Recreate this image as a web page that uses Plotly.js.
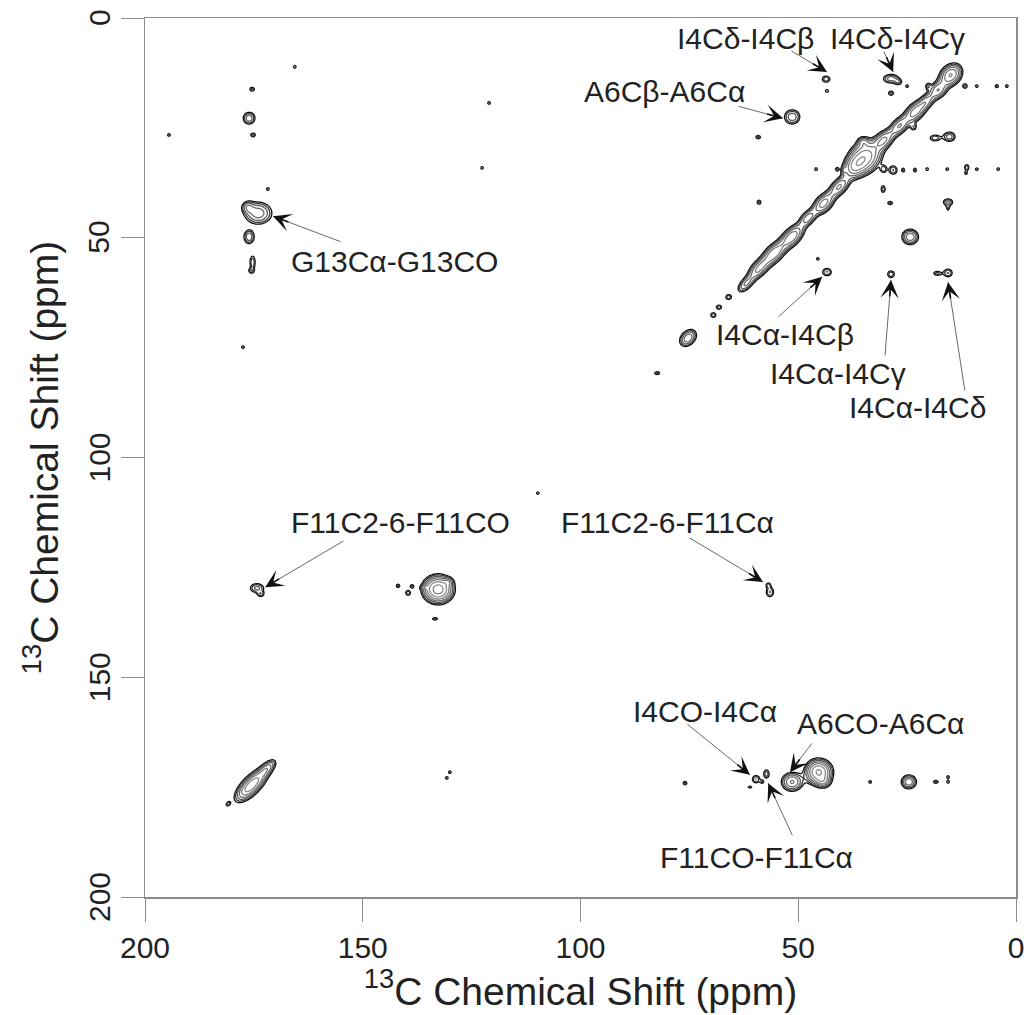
<!DOCTYPE html>
<html>
<head>
<meta charset="utf-8">
<script src="https://cdn.plot.ly/plotly-3.0.1.min.js"></script>
<style>
  html, body { margin: 0; padding: 0; background: #fff; }
  #plot { width: 1029px; height: 1015px; }
</style>
</head>
<body>
<div id="plot"></div>
<script>
// 2D 13C-13C correlation spectrum, peak list in ppm (F2 = x, F1 = y).

// Peaks elongated along the diagonal (x = y direction): diagonal ridge and the CO diagonal peak
const diagX   = [15.0, 17.9, 20.6, 23.2, 26.8, 30.4, 34.6, 37.0, 40.6, 44.2, 47.8, 51.5, 55.6, 59.0, 62.0, 75.3, 175.6, 172.0, 180.9];
const diagY   = [13.0, 16.4, 19.0, 21.4, 24.6, 27.8, 31.6, 33.8, 38.4, 42.2, 45.5, 49.8, 53.6, 57.0, 60.5, 72.8, 174.6, 170.8, 178.8];
const diagLen = [1.7, 1.4, 1.5, 1.8, 1.7, 1.7, 2.3, 1.8, 1.8, 1.8, 1.5, 2.1, 2.0, 1.9, 1.6, 1.4, 2.6, 1.7, 0.5];
const diagWid = [1.3, 1.1, 0.9, 1.1, 1.0, 1.1, 1.9, 1.4, 1.0, 1.1, 0.9, 1.1, 1.1, 1.0, 0.8, 1.0, 1.1, 0.8, 0.35];
const diagAmp = [5.5, 3.6, 3.0, 4.5, 3.8, 4.0, 6.5, 4.5, 4.0, 4.5, 3.2, 5.0, 5.0, 4.2, 2.8, 3.6, 7.0, 3.0, 1.6];

// Off-diagonal cross peaks
const peakX = [
  43.6, 43.4, 28.7, 27.0, 28.7, 51.4, 59.2, 15.3, 18.6, 23.5, 35.1, 24.3, 15.6, 15.6, 30.5, 28.9, 59.0,
  43.4, 28.7, 15.6, 18.1, 39.5, 28.2, 30.4, 25.9, 23.2, 11.3, 11.5, 20.2, 11.7, 4.4,
  66.0, 68.2, 69.5, 82.4,
  175.4, 176.1, 175.2, 174.0, 176.4, 176.1, 175.3, 175.6,
  174.3, 173.4, 132.7, 130.3, 135.8, 141.9, 139.6, 138.7, 133.4, 56.5, 56.9,
  76.0, 59.7, 57.3, 58.3, 61.1, 51.4, 45.3, 44.2, 24.6, 18.4, 15.6, 15.6
];
const peakY = [
  13.9, 16.6, 13.8, 14.6, 17.1, 22.5, 27.1, 27.0, 27.3, 24.8, 28.2, 49.8, 41.9, 43.2, 38.9, 42.1, 41.9,
  57.8, 58.3, 58.0, 58.1, 34.6, 34.6, 34.4, 34.6, 34.6, 34.0, 35.3, 15.5, 15.5, 15.5,
  63.5, 65.8, 67.6, 80.8,
  16.2, 22.8, 26.6, 44.4, 43.0, 49.8, 55.6, 57.5,
  129.7, 131.1, 130.0, 128.3, 129.6, 129.2, 130.8, 129.3, 136.7, 130.6, 129.0,
  174.1, 173.2, 172.0, 173.8, 175.0, 173.8, 171.6, 173.8, 173.8, 173.8, 172.7, 173.8
];
const peakWX = [
  0.8, 0.4, 1.3, 0.6, 0.6, 1.3, 0.55, 1.0, 1.0, 0.5, 0.8, 1.2, 0.9, 0.3, 0.45, 0.55, 0.45,
  0.85, 0.7, 0.8, 0.8, 0.35, 0.75, 0.55, 0.35, 0.35, 0.45, 0.3, 0.45, 0.5, 0.4,
  0.6, 0.55, 0.55, 0.6,
  0.55, 1.0, 0.55, 2.0, 0.9, 0.85, 0.55, 0.5,
  1.2, 0.6, 1.9, 0.7, 0.6, 0.4, 0.5, 0.4, 0.6, 0.7, 0.45,
  0.45, 0.7, 0.6, 0.35, 0.45, 1.5, 1.7, 1.0, 1.1, 0.55, 0.35, 0.35
];
const peakWY = [
  0.65, 0.35, 0.75, 0.5, 0.5, 1.2, 0.4, 0.8, 0.6, 0.6, 0.75, 1.1, 0.65, 0.6, 0.75, 0.4, 0.5,
  0.7, 0.7, 0.75, 0.45, 0.55, 0.8, 0.65, 0.45, 0.45, 0.6, 0.35, 0.55, 0.5, 0.4,
  0.5, 0.45, 0.5, 0.35,
  0.45, 1.0, 0.45, 1.6, 0.9, 1.1, 1.3, 0.45,
  0.8, 0.5, 1.7, 0.6, 0.35, 0.4, 0.5, 0.4, 0.3, 0.9, 0.45,
  0.4, 0.7, 0.9, 0.35, 0.25, 1.3, 1.6, 0.8, 1.0, 0.35, 0.35, 0.35
];
const peakAmp = [
  1.8, 1.5, 2.4, 1.6, 1.6, 2.5, 1.6, 2.4, 1.8, 1.7, 2.0, 3.6, 2.0, 1.4, 1.7, 1.6, 1.6,
  2.0, 1.8, 2.0, 1.6, 1.6, 2.0, 1.7, 1.6, 1.6, 1.8, 1.4, 1.7, 1.6, 1.5,
  1.8, 1.8, 1.8, 1.6,
  1.6, 2.5, 1.6, 3.4, 2.0, 2.6, 1.8, 1.6,
  2.2, 1.6, 9.0, 1.8, 1.6, 1.6, 1.8, 1.6, 1.6, 2.0, 1.5,
  1.6, 2.0, 1.7, 1.4, 1.5, 4.0, 8.0, 2.5, 3.6, 1.6, 1.5, 1.5
];

// Weak isolated specks
const speckX = [165.6, 194.5, 171.8, 121.0, 122.6, 177.5, 109.8, 25.0, 9.0, 2.1, 45.9, 41.1, 20.4, 15.8, 9.0, 4.1, 45.5, 33.5, 130.0, 130.7];
const speckY = [11.1, 26.6, 38.9, 19.3, 34.1, 74.9, 108.1, 15.5, 15.5, 15.5, 34.4, 34.4, 34.4, 34.4, 34.4, 34.4, 54.8, 173.8, 171.6, 172.9];

// Assignment labels: text position, arrow tail and arrow tip (ppm)
const labelText  = ['I4Cδ-I4Cβ', 'I4Cδ-I4Cγ', 'A6Cβ-A6Cα', 'G13Cα-G13CO', 'I4Cα-I4Cβ', 'I4Cα-I4Cγ',
                    'I4Cα-I4Cδ', 'F11C2-6-F11CO', 'F11C2-6-F11Cα', 'I4CO-I4Cα', 'A6CO-A6Cα', 'F11CO-F11Cα'];
const labelX     = [62.2, 27.3, 80.6, 142.8, 53.0, 40.9, 22.7, 141.4, 80.1, 71.4, 31.2, 59.5];
const labelY     = [4.55, 4.55, 16.8, 55.5, 72.1, 80.8, 88.7, 114.9, 114.9, 157.9, 160.6, 191.1];
const arrowTailX = [51.9, 30.5, 64.1, 154.8, 54.9, 30.1, 11.7, 154.1, 75.3, 75.8, 46.6, 51.2];
const arrowTailY = [7.3, 7.3, 20.0, 51.0, 68.3, 77.1, 85.1, 118.8, 118.1, 160.4, 164.7, 186.3];
const arrowHeadX = [43.4, 28.2, 53.5, 170.6, 44.5, 28.7, 15.6, 172.4, 58.1, 61.1, 51.9, 56.9];
const arrowHeadY = [12.3, 12.3, 22.8, 45.1, 58.9, 59.6, 60.1, 129.5, 128.3, 172.2, 171.6, 174.1];

// Axis ticks
const tickVals = [200, 150, 100, 50, 0];

// ---- intensity grid built from the peak list ----
const STEP = 0.25;
const N = Math.round(200 / STEP) + 1;
const grid = new Float64Array(N * N);
const xs = [], ys = [];
for (let i = 0; i < N; i++) { xs.push(i * STEP); ys.push(i * STEP); }

function addPeak(cx, cy, wa, wc, angDeg, amp) {
  const a = angDeg * Math.PI / 180, ca = Math.cos(a), sa = Math.sin(a);
  const r = 4.5 * Math.max(wa, wc);
  const i0 = Math.max(0, Math.floor((cx - r) / STEP)), i1 = Math.min(N - 1, Math.ceil((cx + r) / STEP));
  const j0 = Math.max(0, Math.floor((cy - r) / STEP)), j1 = Math.min(N - 1, Math.ceil((cy + r) / STEP));
  for (let j = j0; j <= j1; j++) {
    const dy = ys[j] - cy;
    for (let i = i0; i <= i1; i++) {
      const dx = xs[i] - cx;
      const u = dx * ca + dy * sa, v = -dx * sa + dy * ca;
      grid[j * N + i] += amp * Math.exp(-0.5 * (u * u / (wa * wa) + v * v / (wc * wc)));
    }
  }
}

diagX.forEach((x, k) => addPeak(x, diagY[k], diagLen[k], diagWid[k], 45, diagAmp[k]));
peakX.forEach((x, k) => addPeak(x, peakY[k], peakWX[k], peakWY[k], 0, peakAmp[k]));
speckX.forEach((x, k) => addPeak(x, speckY[k], 0.35, 0.35, 0, 1.5));

// logarithmic intensity so equally spaced contour levels grow geometrically
const zLog = [];
for (let j = 0; j < N; j++) {
  const row = new Array(N);
  for (let i = 0; i < N; i++) row[i] = Math.log(Math.max(grid[j * N + i], 1e-3));
  zLog.push(row);
}

const FONT = '"Liberation Sans", Arial, Helvetica, sans-serif';
const TXT = '#222';
const AXC = '#8c8c8c';

const trace = {
  type: 'contour',
  x: xs, y: ys, z: zLog,
  contours: { coloring: 'lines', start: 0, end: 3, size: Math.log(1.4) },
  colorscale: [[0, '#101010'], [0.35, '#555'], [1, '#8a8a8a']],
  zauto: false, zmin: 0, zmax: 1.8,
  line: { width: 1.3, smoothing: 0.8 },
  showscale: false,
  hoverinfo: 'skip'
};

const M = { l: 145, r: 13, t: 18, b: 118 };
const W = 1029, H = 1015;
const pxPerX = (W - M.l - M.r) / 200;
const pxPerY = (H - M.t - M.b) / 200;

const annotations = [];

// rotated y tick labels, placed on the y scale just left of the tick marks
tickVals.forEach(v => {
  annotations.push({
    x: -46 / (W - M.l - M.r), xref: 'paper', y: v, yref: 'y',
    text: String(v), textangle: -90, showarrow: false,
    xanchor: 'center', yanchor: 'middle',
    font: { family: FONT, size: 30, color: TXT }
  });
});

labelText.forEach((t, k) => {
  annotations.push({
    x: labelX[k], y: labelY[k], xref: 'x', yref: 'y', text: t, showarrow: false,
    font: { family: FONT, size: 30, color: TXT }, xanchor: 'center', yanchor: 'middle'
  });
  // thin leader line
  annotations.push({
    x: arrowHeadX[k], y: arrowHeadY[k], xref: 'x', yref: 'y',
    ax: arrowTailX[k], ay: arrowTailY[k], axref: 'x', ayref: 'y',
    text: '', showarrow: true, arrowhead: 0, arrowwidth: 1, arrowcolor: '#6a6a6a'
  });
  // bold barbed head
  const dxp = -(arrowHeadX[k] - arrowTailX[k]) * pxPerX;
  const dyp = (arrowHeadY[k] - arrowTailY[k]) * pxPerY;
  const len = Math.hypot(dxp, dyp);
  annotations.push({
    x: arrowHeadX[k], y: arrowHeadY[k], xref: 'x', yref: 'y',
    ax: -dxp / len * 18, ay: -dyp / len * 18,
    text: '', showarrow: true, arrowhead: 3, arrowsize: 1.9, arrowwidth: 1.6, arrowcolor: '#111'
  });
});

const axisCommon = {
  range: [200, 0],
  tickmode: 'array', tickvals: tickVals, ticktext: tickVals.map(String),
  ticks: 'outside', ticklen: 23, tickwidth: 1, tickcolor: AXC,
  showline: true, linecolor: AXC, linewidth: 1.5, mirror: true,
  showgrid: false, zeroline: false,
  tickfont: { family: FONT, size: 30, color: TXT }
};

const layout = {
  width: W, height: H,
  margin: M,
  paper_bgcolor: '#fff', plot_bgcolor: '#fff',
  showlegend: false,
  xaxis: Object.assign({}, axisCommon, {
    ticklabelstandoff: 0,
    title: { text: '<sup>13</sup>C Chemical Shift (ppm)', font: { family: FONT, size: 39, color: TXT }, standoff: 10 }
  }),
  yaxis: Object.assign({}, axisCommon, {
    showticklabels: false,
    title: { text: '<sup>13</sup>C Chemical Shift (ppm)', font: { family: FONT, size: 39, color: TXT }, standoff: 50 }
  }),
  annotations: annotations
};

Plotly.newPlot('plot', [trace], layout, { staticPlot: true, displayModeBar: false });
</script>
</body>
</html>
